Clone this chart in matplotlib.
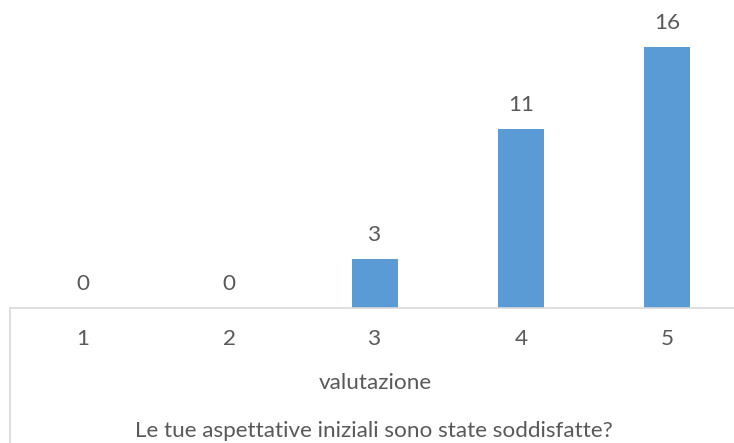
import matplotlib.pyplot as plt
import matplotlib.transforms as mtransforms

# risposte per valutazione
categorie = ['1', '2', '3', '4', '5']
conteggi = [0, 0, 3, 11, 16]

titolo_asse = 'valutazione'
domanda = 'Le tue aspettative iniziali sono state soddisfatte?'

plt.rcParams['font.family'] = ['Lato', 'DejaVu Sans']
grigio = '#595959'
linea = '#d9d9d9'
fs = 16.2

W, H = 734, 443
fig = plt.figure(figsize=(W / 100, H / 100), dpi=100)
# area del grafico: da x=10 px fino oltre il bordo destro, base a y=308 px
ax = fig.add_axes([10 / W, (H - 308) / H, 730 / W, 308 / H])

pos = list(range(len(categorie)))
barre = ax.bar(pos, conteggi, width=46 / 146, color='#5b9bd5')
ax.set_xlim(-0.5, len(categorie) - 0.5)
ax.set_ylim(0, 308 / 16.31)

for b, v in zip(barre, conteggi):
    ax.annotate(str(v), (b.get_x() + b.get_width() / 2, v),
                xytext=(0, 17), textcoords='offset points',
                ha='center', va='center', fontsize=fs, color=grigio)

for s in ['top', 'right', 'left']:
    ax.spines[s].set_visible(False)
ax.spines['bottom'].set_color(linea)
ax.spines['bottom'].set_linewidth(1.2)
ax.set_yticks([])
ax.set_xticks(pos)
ax.set_xticklabels(categorie)
ax.tick_params(axis='x', length=0, pad=15, labelsize=fs, labelcolor=grigio)

# linea verticale a sinistra sotto l'asse
tr = mtransforms.blended_transform_factory(ax.transAxes, fig.transFigure)
ax.plot([0, 0], [(H - 308) / H, 0], transform=tr, color=linea,
        lw=1.2, clip_on=False)

fig.text(375 / W, 1 - 383 / H, titolo_asse, ha='center', va='center',
         fontsize=fs, color=grigio)
fig.text(374 / W, 1 - 431 / H, domanda, ha='center', va='center',
         fontsize=fs, color=grigio)

fig.savefig('out.png', dpi=100)
